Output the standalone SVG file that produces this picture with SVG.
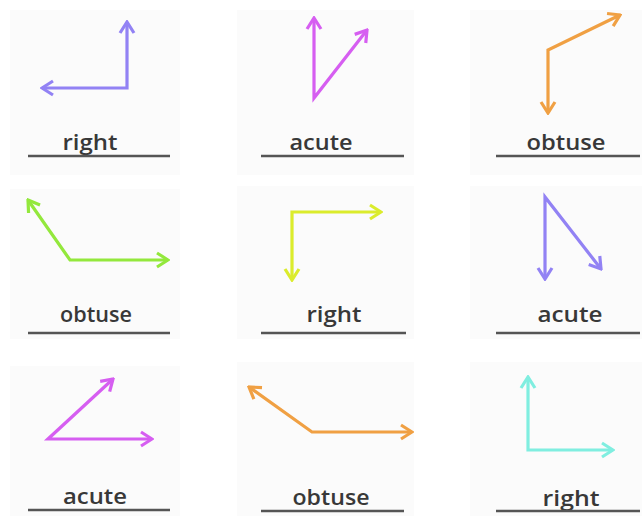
<svg xmlns="http://www.w3.org/2000/svg" width="642" height="516" viewBox="0 0 642 516">
<style>
.panel{fill:#fbfbfb;stroke:none}
.ang{fill:none;stroke-width:3.2;stroke-linejoin:miter;stroke-linecap:butt}
.lbl{font-family:"Open Sans","Liberation Sans",sans-serif;font-size:21px;font-weight:600;fill:#383838;text-anchor:middle}
.ul{stroke:#555;stroke-width:2.5}
.lav{stroke:#9282f4}.mag{stroke:#d65ef1}.org{stroke:#f0a043}.grn{stroke:#93e83c}.yel{stroke:#dbec2c}.cyn{stroke:#80eee0}
</style>
<defs>
<marker id="h-lav" viewBox="-13 -9 15 18" refX="0" refY="0" markerWidth="15" markerHeight="18" markerUnits="userSpaceOnUse" orient="auto-start-reverse"><path d="M-11,-7 L0,0 L-11,7" fill="none" stroke="#9282f4" stroke-width="3.2"/></marker>
<marker id="h-mag" viewBox="-13 -9 15 18" refX="0" refY="0" markerWidth="15" markerHeight="18" markerUnits="userSpaceOnUse" orient="auto-start-reverse"><path d="M-11,-7 L0,0 L-11,7" fill="none" stroke="#d65ef1" stroke-width="3.2"/></marker>
<marker id="h-org" viewBox="-13 -9 15 18" refX="0" refY="0" markerWidth="15" markerHeight="18" markerUnits="userSpaceOnUse" orient="auto-start-reverse"><path d="M-11,-7 L0,0 L-11,7" fill="none" stroke="#f0a043" stroke-width="3.2"/></marker>
<marker id="h-grn" viewBox="-13 -9 15 18" refX="0" refY="0" markerWidth="15" markerHeight="18" markerUnits="userSpaceOnUse" orient="auto-start-reverse"><path d="M-11,-7 L0,0 L-11,7" fill="none" stroke="#93e83c" stroke-width="3.2"/></marker>
<marker id="h-yel" viewBox="-13 -9 15 18" refX="0" refY="0" markerWidth="15" markerHeight="18" markerUnits="userSpaceOnUse" orient="auto-start-reverse"><path d="M-11,-7 L0,0 L-11,7" fill="none" stroke="#dbec2c" stroke-width="3.2"/></marker>
<marker id="h-cyn" viewBox="-13 -9 15 18" refX="0" refY="0" markerWidth="15" markerHeight="18" markerUnits="userSpaceOnUse" orient="auto-start-reverse"><path d="M-11,-7 L0,0 L-11,7" fill="none" stroke="#80eee0" stroke-width="3.2"/></marker>
</defs>
<rect width="642" height="516" fill="#ffffff"/>

<g id="cell1">
<rect class="panel" x="10" y="10" width="170" height="165"/>
<path class="ang lav" d="M127,22 L127,88 L42,88" marker-start="url(#h-lav)" marker-end="url(#h-lav)"/>
<text class="lbl" x="90" y="150" textLength="55" lengthAdjust="spacingAndGlyphs">right</text>
<line class="ul" x1="28" y1="156" x2="170" y2="156"/>
</g>

<g id="cell2">
<rect class="panel" x="237" y="10" width="177" height="165"/>
<path class="ang mag" d="M314,18 L314,98 L367,30" marker-start="url(#h-mag)" marker-end="url(#h-mag)"/>
<text class="lbl" x="321" y="150" textLength="63" lengthAdjust="spacingAndGlyphs">acute</text>
<line class="ul" x1="261" y1="156" x2="404" y2="156"/>
</g>

<g id="cell3">
<rect class="panel" x="470" y="10" width="172" height="165"/>
<path class="ang org" d="M620,15 L548,50 L548,113" marker-start="url(#h-org)" marker-end="url(#h-org)"/>
<text class="lbl" x="566" y="150" textLength="79" lengthAdjust="spacingAndGlyphs">obtuse</text>
<line class="ul" x1="496" y1="156" x2="640" y2="156"/>
</g>

<g id="cell4">
<rect class="panel" x="10" y="189" width="170" height="150"/>
<path class="ang grn" d="M28,200 L70,260 L168,260" marker-start="url(#h-grn)" marker-end="url(#h-grn)"/>
<text class="lbl" x="96" y="322" textLength="72" lengthAdjust="spacingAndGlyphs">obtuse</text>
<line class="ul" x1="28" y1="333" x2="170" y2="333"/>
</g>

<g id="cell5">
<rect class="panel" x="237" y="186" width="177" height="153"/>
<path class="ang yel" d="M381,212 L292,212 L292,280" marker-start="url(#h-yel)" marker-end="url(#h-yel)"/>
<text class="lbl" x="334" y="322" textLength="55" lengthAdjust="spacingAndGlyphs">right</text>
<line class="ul" x1="261" y1="333" x2="406" y2="333"/>
</g>

<g id="cell6">
<rect class="panel" x="470" y="186" width="172" height="153"/>
<path class="ang lav" d="M545,279 L545,197 L601,269" marker-start="url(#h-lav)" marker-end="url(#h-lav)"/>
<text class="lbl" x="570" y="322" textLength="65" lengthAdjust="spacingAndGlyphs">acute</text>
<line class="ul" x1="496" y1="333" x2="640" y2="333"/>
</g>

<g id="cell7">
<rect class="panel" x="10" y="366" width="170" height="150"/>
<path class="ang mag" d="M113,379 L48,439 L152,439" marker-start="url(#h-mag)" marker-end="url(#h-mag)"/>
<text class="lbl" x="95" y="504" textLength="64" lengthAdjust="spacingAndGlyphs">acute</text>
<line class="ul" x1="28" y1="510" x2="170" y2="510"/>
</g>

<g id="cell8">
<rect class="panel" x="237" y="362" width="177" height="154"/>
<path class="ang org" d="M249,387 L312,432 L412,432" marker-start="url(#h-org)" marker-end="url(#h-org)"/>
<text class="lbl" x="331" y="505" textLength="77" lengthAdjust="spacingAndGlyphs">obtuse</text>
<line class="ul" x1="261" y1="511" x2="404" y2="511"/>
</g>

<g id="cell9">
<rect class="panel" x="470" y="362" width="172" height="154"/>
<path class="ang cyn" d="M528,377 L528,450 L613,450" marker-start="url(#h-cyn)" marker-end="url(#h-cyn)"/>
<text class="lbl" x="571" y="506" textLength="57" lengthAdjust="spacingAndGlyphs">right</text>
<line class="ul" x1="496" y1="511" x2="640" y2="511"/>
</g>
</svg>
